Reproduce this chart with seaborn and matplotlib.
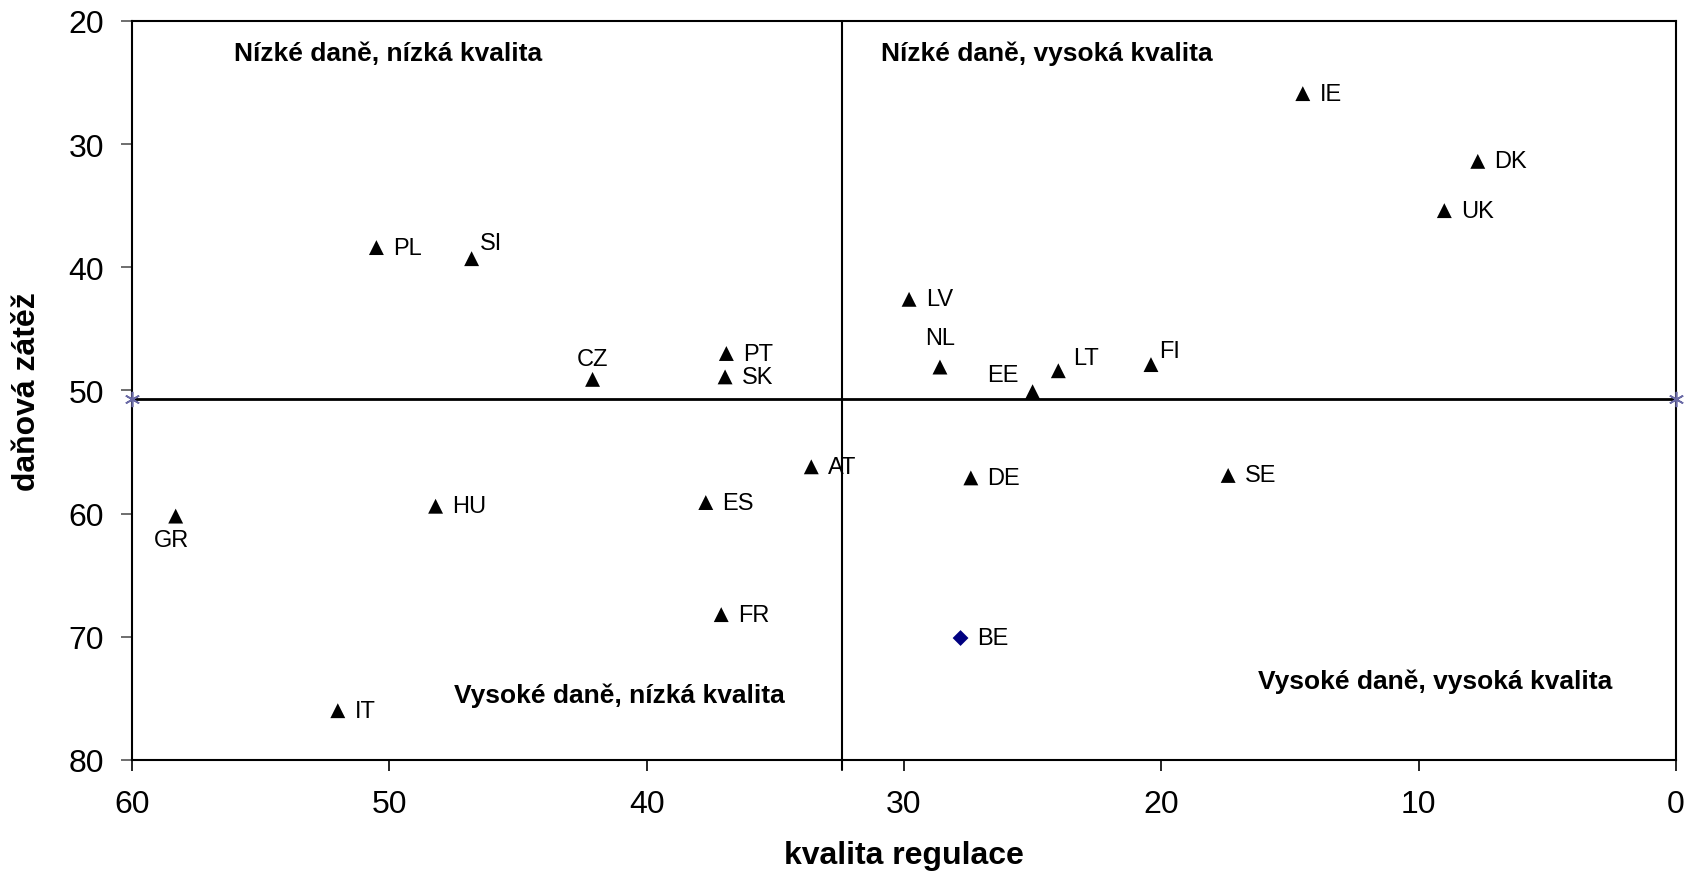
import matplotlib
matplotlib.use("Agg")
import matplotlib.pyplot as plt
import seaborn as sns
import pandas as pd

# data
countries = ["IE", "DK", "UK", "PL", "SI", "LV", "CZ", "PT", "SK", "NL", "EE",
             "LT", "FI", "AT", "DE", "SE", "ES", "HU", "GR", "FR", "IT"]
kvalita = [14.5, 7.7, 9.0, 50.5, 46.8, 29.8, 42.1, 36.9, 36.95, 28.6, 25.0,
           24.0, 20.4, 33.6, 27.4, 17.4, 37.7, 48.2, 58.3, 37.1, 52.0]
zatez = [25.9, 31.4, 35.4, 38.4, 39.3, 42.6, 49.1, 47.0, 48.9, 48.1, 50.1,
         48.4, 47.9, 56.2, 57.1, 56.9, 59.1, 59.4, 60.2, 68.2, 76.0]
be_x = [27.8]
be_y = [70.1]
prumer_x = 32.4
prumer_y = 50.7

# label offsets in points (dx, dy, ha, va)
offsets = {
    "CZ": (0, 7, "center", "bottom"),
    "SI": (6, 3, "left", "bottom"),
    "NL": (0, 13, "center", "bottom"),
    "EE": (-10, 4, "right", "bottom"),
    "FI": (6, 2, "left", "bottom"),
    "LT": (11, 1, "left", "bottom"),
    "GR": (-3, -9, "center", "top"),
}

df = pd.DataFrame({"kvalita": kvalita, "zatez": zatez, "zeme": countries})

sns.set_style("white")
plt.rcParams["font.family"] = ["Liberation Sans", "DejaVu Sans"]
plt.rcParams["text.color"] = "black"
plt.rcParams["axes.labelcolor"] = "black"
plt.rcParams["xtick.color"] = "black"
plt.rcParams["ytick.color"] = "black"

fig = plt.figure(figsize=(16.98, 8.78), dpi=100)
ax = fig.add_axes([0.0777, 0.1333, 0.9093, 0.8417])

# quadrant lines
ax.plot([60, 0], [prumer_y, prumer_y], color="black", lw=2, zorder=1)
ax.plot([60, 0], [prumer_y, prumer_y], ls="none", marker=(6, 2, 0),
        markersize=11, mec="#6b6ba6", mew=1.2, clip_on=False, zorder=3)
ax.plot([prumer_x, prumer_x], [20, 80.8], color="black", lw=1.5,
        clip_on=False, zorder=1)

sns.scatterplot(data=df, x="kvalita", y="zatez", marker="^", color="black",
                s=115, edgecolor="none", ax=ax, zorder=4)
sns.scatterplot(x=be_x, y=be_y, marker="D", color="#000080", s=65,
                edgecolor="none", ax=ax, zorder=4)

for c, x, y in zip(countries, kvalita, zatez):
    dx, dy, ha, va = offsets.get(c, (12, 0, "left", "center"))
    ax.annotate(c, (x, y), xytext=(dx, dy), textcoords="offset points",
                ha=ha, va=va, fontsize=17)
ax.annotate("BE", (be_x[0], be_y[0]), xytext=(12, 0), textcoords="offset points",
            ha="left", va="center", fontsize=17)

# quadrant titles
ax.text(50.05, 22.6, "Nízké daně, nízká kvalita", fontsize=19, fontweight="bold",
        ha="center", va="center")
ax.text(24.45, 22.6, "Nízké daně, vysoká kvalita", fontsize=19, fontweight="bold",
        ha="center", va="center")
ax.text(41.07, 74.7, "Vysoké daně, nízká kvalita", fontsize=19, fontweight="bold",
        ha="center", va="center")
ax.text(9.35, 73.6, "Vysoké daně, vysoká kvalita", fontsize=19, fontweight="bold",
        ha="center", va="center")

ax.set_xlim(60, 0)
ax.set_ylim(80, 20)
ax.set_xticks([60, 50, 40, 30, 20, 10, 0])
ax.set_yticks([20, 30, 40, 50, 60, 70, 80])
ax.tick_params(axis="both", direction="out", length=8, width=1.2, labelsize=23,
               bottom=True, left=True)
ax.tick_params(axis="x", pad=13)
ax.tick_params(axis="y", pad=12, color="#555555")
for s in ax.spines.values():
    s.set_color("black")
    s.set_linewidth(1.5)

ax.set_xlabel("kvalita regulace", fontsize=23, fontweight="bold", labelpad=15)
ax.set_ylabel("daňová zátěž", fontsize=23, fontweight="bold", labelpad=19)

fig.savefig("out.png", dpi=100)
